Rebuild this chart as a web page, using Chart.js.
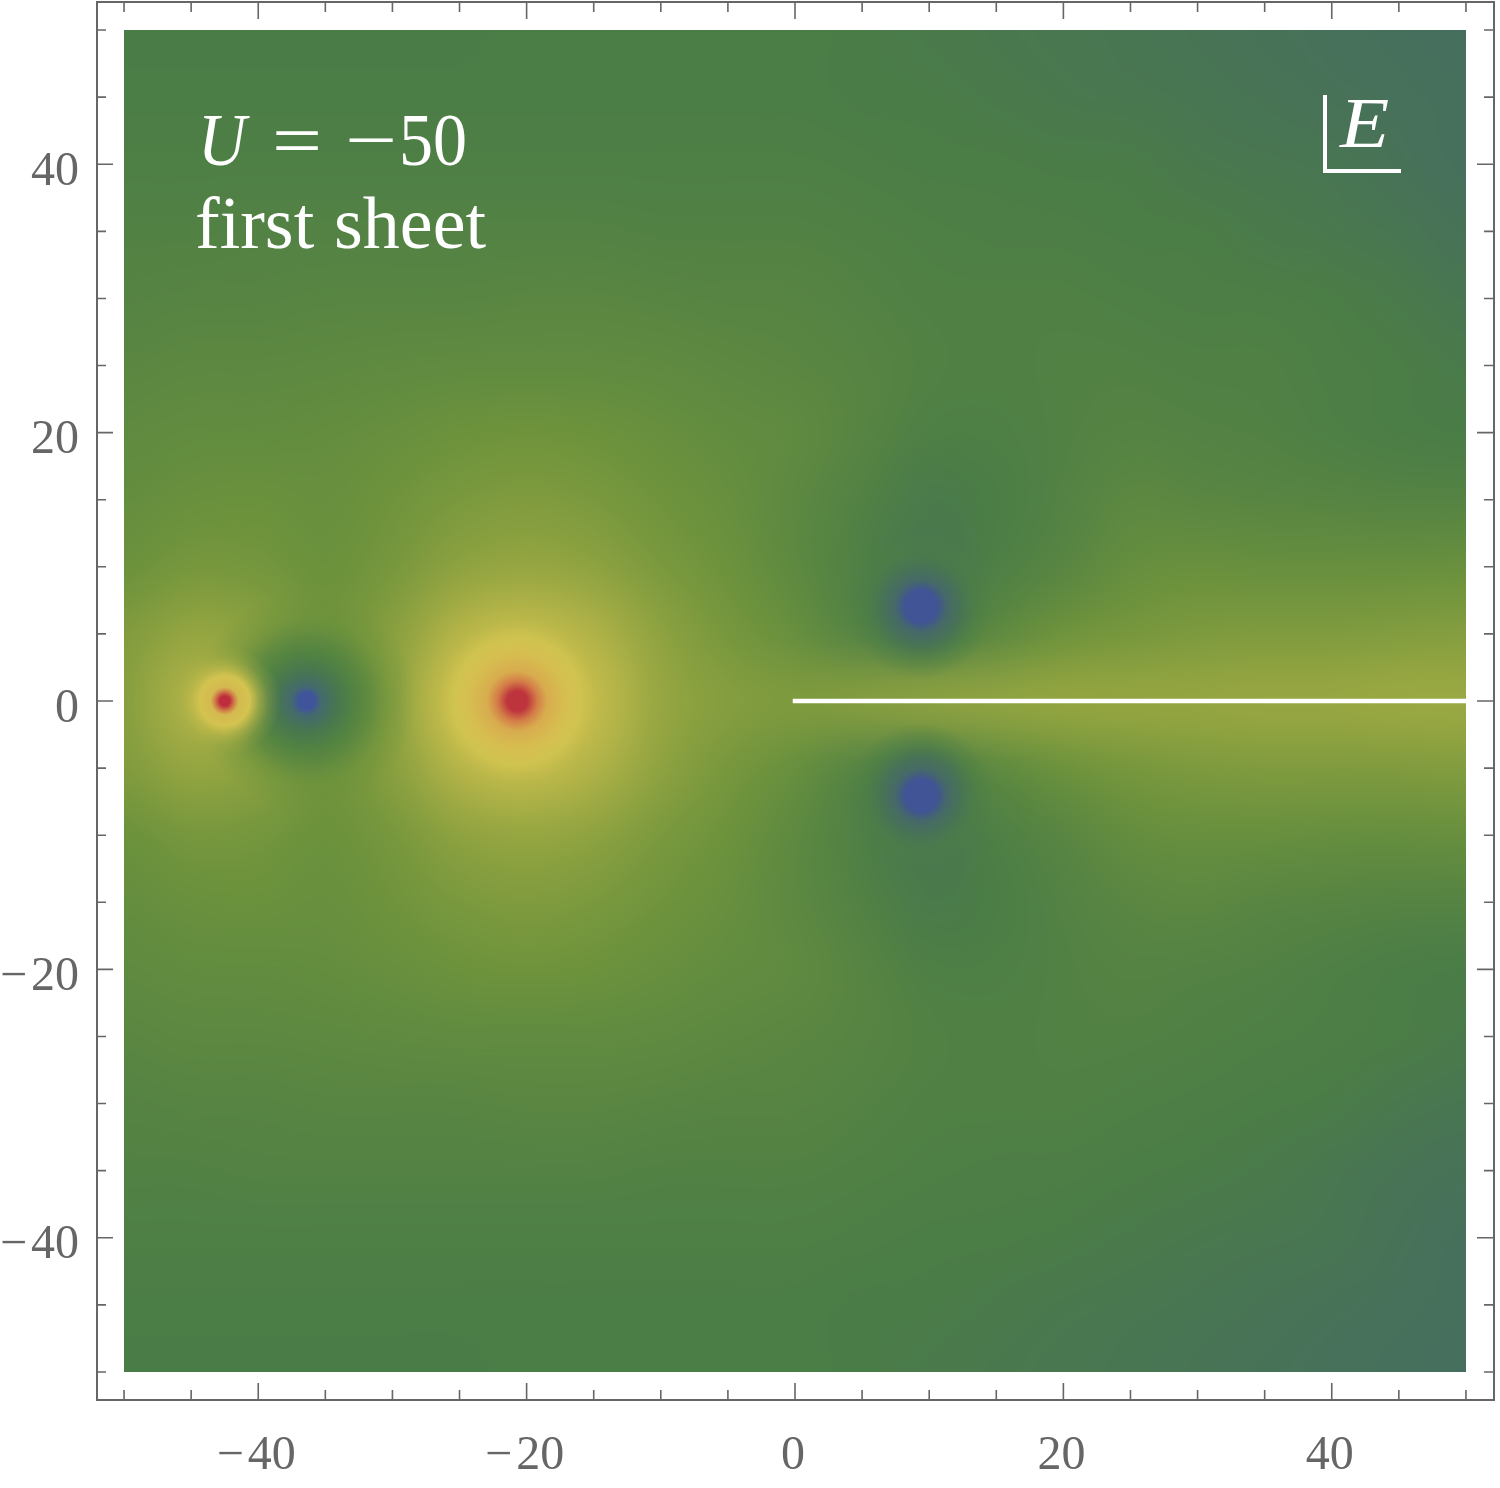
<!DOCTYPE html>
<html>
<head>
    <meta charset="UTF-8">
    <title>U = -50, first sheet</title>
    <script src="https://cdn.jsdelivr.net/npm/chart.js"></script>
    <style>
        html, body { margin: 0; padding: 0; background: #fff; }
        canvas { display: block; }
    </style>
</head>
<body>
<canvas id="sheet" width="1500" height="1488"></canvas>
<script>
// Axis ticks
const tickValues = [-50, -45, -40, -35, -30, -25, -20, -15, -10, -5, 0, 5, 10, 15, 20, 25, 30, 35, 40, 45, 50];
const labelledTicks = [-40, -20, 0, 20, 40];

// Field samples, 0 = blue, 25 = green, 80 = yellow, 100 = red
const fieldX = [-50, -45, -40, -35, -30, -25, -20, -15, -10, -5, 0, 5, 10, 15, 20, 25, 30, 35, 40, 45, 50];
const fieldY = [50, 45, 40, 35, 30, 25, 20, 15, 10, 5, 0, -5, -10, -15, -20, -25, -30, -35, -40, -45, -50];
const fieldValues = [
    [24, 24, 24, 24, 24, 24, 25, 25, 25, 25, 25, 24, 23, 22, 21, 20, 19, 18, 17, 16, 15],
    [25, 25, 25, 25, 25, 25, 25, 25, 25, 25, 25, 24, 24, 23, 22, 21, 20, 19, 18, 17, 16],
    [27, 27, 27, 27, 27, 27, 27, 27, 27, 27, 27, 26, 25, 25, 24, 24, 22, 21, 20, 18, 16],
    [29, 29, 30, 30, 30, 30, 30, 30, 29, 29, 29, 28, 27, 26, 26, 25, 25, 23, 22, 20, 18],
    [31, 32, 32, 33, 33, 33, 34, 34, 33, 32, 32, 30, 28, 28, 28, 27, 26, 26, 25, 23, 20],
    [34, 35, 35, 36, 37, 38, 38, 38, 37, 35, 34, 32, 29, 28, 29, 29, 28, 28, 26, 25, 23],
    [37, 39, 39, 40, 42, 45, 46, 45, 42, 39, 37, 32, 27, 27, 29, 31, 30, 29, 27, 25, 24],
    [40, 43, 44, 42, 46, 50, 52, 50, 46, 42, 35, 29, 23, 25, 30, 35, 34, 33, 32, 31, 31],
    [44, 49, 48, 44, 49, 57, 60, 57, 50, 45, 36, 27, 21, 27, 33, 41, 43, 42, 42, 42, 43],
    [52, 60, 56, 46, 55, 70, 74, 69, 57, 49, 42, 30, 26, 36, 46, 49, 51, 52, 52, 53, 54],
    [54, 69, 58, 47, 56, 78, 84, 76, 60, 54, 52, 55, 58, 59, 60, 60, 60, 61, 61, 62, 62],
    [52, 60, 56, 46, 55, 70, 74, 69, 57, 49, 42, 30, 26, 36, 45, 49, 51, 52, 52, 52, 53],
    [44, 49, 48, 44, 49, 57, 60, 57, 50, 45, 36, 27, 21, 27, 33, 40, 42, 42, 41, 41, 42],
    [40, 43, 44, 42, 46, 50, 52, 50, 46, 42, 35, 29, 23, 25, 30, 34, 35, 33, 32, 31, 31],
    [37, 39, 39, 40, 42, 45, 46, 45, 42, 39, 37, 32, 27, 27, 29, 31, 30, 29, 27, 25, 24],
    [34, 35, 35, 36, 37, 38, 38, 38, 37, 35, 34, 32, 29, 28, 29, 29, 28, 27, 26, 25, 23],
    [31, 32, 32, 33, 33, 33, 34, 34, 33, 32, 32, 30, 28, 28, 28, 27, 26, 25, 24, 22, 20],
    [29, 29, 30, 30, 30, 30, 30, 30, 29, 29, 29, 28, 27, 26, 26, 25, 24, 23, 21, 19, 18],
    [27, 27, 27, 27, 27, 27, 27, 27, 27, 27, 27, 26, 25, 25, 24, 23, 22, 21, 20, 18, 16],
    [25, 25, 25, 25, 25, 25, 25, 25, 25, 25, 25, 24, 24, 23, 22, 21, 20, 19, 18, 17, 16],
    [24, 24, 24, 24, 24, 24, 25, 25, 25, 25, 25, 24, 23, 22, 21, 20, 19, 18, 17, 16, 15]
];

// Poles and zeros
const smallPoleX = [-42.5];
const smallPoleY = [0];
const bigPoleX = [-20.7];
const bigPoleY = [0];
const smallZeroX = [-36.4];
const smallZeroY = [0];
const bigZeroX = [9.4, 9.4];
const bigZeroY = [7.05, -7.05];

// Branch cut
const cutX = [0, 50];
const cutY = [0, 0];

// value -> colour
const colourStops = [
    [0, 64, 82, 155],
    [15, 70, 110, 95],
    [25, 75, 125, 70],
    [45, 108, 146, 60],
    [60, 150, 166, 65],
    [80, 211, 195, 80],
    [88, 215, 172, 78],
    [100, 190, 50, 60]
];

function colourFor(v) {
    for (let i = 1; i < colourStops.length; i++) {
        const a = colourStops[i - 1], b = colourStops[i];
        if (v <= b[0]) {
            const t = (v - a[0]) / (b[0] - a[0]);
            return [1, 2, 3].map(k => a[k] + (b[k] - a[k]) * t);
        }
    }
    return colourStops[colourStops.length - 1].slice(1);
}

function zip(xs, ys) {
    return xs.map((x, i) => ({x: x, y: ys[i]}));
}

// radial fill centred on the point, stops are [radius px, r, g, b, alpha]
function spotFill(radius, stops) {
    return function (c) {
        if (!c.raw) return 'rgba(0,0,0,0)';
        const px = c.chart.scales.x.getPixelForValue(c.raw.x);
        const py = c.chart.scales.y.getPixelForValue(c.raw.y);
        // options also get resolved once before the scales have a size
        if (!Number.isFinite(px) || !Number.isFinite(py)) return 'rgba(0,0,0,0)';
        const g = c.chart.ctx.createRadialGradient(px, py, 0, px, py, radius);
        stops.forEach(s => g.addColorStop(s[0] / radius, `rgba(${s[1]},${s[2]},${s[3]},${s[4]})`));
        return g;
    };
}

const smallPoleFill = spotFill(56, [
    [0, 190, 45, 60, 1], [5, 190, 45, 60, 1], [10, 208, 130, 72, 1], [14, 212, 185, 80, 1],
    [25, 211, 195, 80, 1], [34, 198, 188, 75, 0.6], [44, 180, 180, 70, 0.25], [56, 165, 172, 66, 0]
]);
const bigPoleFill = spotFill(120, [
    [0, 190, 52, 60, 1], [10, 190, 52, 60, 1], [20, 212, 125, 72, 1], [30, 216, 172, 78, 1],
    [48, 214, 190, 80, 1], [64, 209, 196, 80, 0.9], [80, 192, 186, 74, 0.55], [100, 178, 178, 70, 0.2], [120, 170, 175, 68, 0]
]);
const smallZeroFill = spotFill(110, [
    [0, 64, 84, 155, 1], [8, 64, 84, 155, 1], [15, 68, 106, 110, 1], [30, 72, 118, 80, 1],
    [48, 80, 130, 66, 0.95], [62, 88, 134, 64, 0.8], [85, 105, 145, 60, 0.4], [110, 108, 146, 60, 0]
]);
const bigZeroFill = spotFill(72, [
    [0, 64, 84, 150, 1], [16, 64, 84, 150, 1], [20, 66, 92, 130, 1], [26, 70, 105, 105, 1],
    [40, 72, 115, 85, 0.92], [56, 75, 125, 72, 0.45], [72, 75, 125, 70, 0]
]);

function spotDataset(xs, ys, radius, fill, order) {
    return {
        type: 'scatter',
        data: zip(xs, ys),
        order: order,
        pointRadius: radius,
        pointHoverRadius: radius,
        pointBorderWidth: 0,
        pointBackgroundColor: fill
    };
}

// the sampled field, smoothed by the canvas when it is stretched to the scales
const fieldPlugin = {
    id: 'field',
    beforeDatasetsDraw(chart) {
        const {ctx, scales: {x, y}} = chart;
        const off = document.createElement('canvas');
        off.width = fieldX.length;
        off.height = fieldY.length;
        const offCtx = off.getContext('2d');
        const img = offCtx.createImageData(off.width, off.height);
        fieldValues.forEach((row, j) => row.forEach((v, i) => {
            const c = colourFor(v), k = (j * off.width + i) * 4;
            img.data[k] = c[0];
            img.data[k + 1] = c[1];
            img.data[k + 2] = c[2];
            img.data[k + 3] = 255;
        }));
        offCtx.putImageData(img, 0, 0);

        const dx = (fieldX[1] - fieldX[0]) / 2;
        const dy = (fieldY[0] - fieldY[1]) / 2;
        const left = x.getPixelForValue(fieldX[0] - dx);
        const right = x.getPixelForValue(fieldX[fieldX.length - 1] + dx);
        const top = y.getPixelForValue(fieldY[0] + dy);
        const bottom = y.getPixelForValue(fieldY[fieldY.length - 1] - dy);

        ctx.save();
        ctx.beginPath();
        ctx.rect(x.getPixelForValue(-50), y.getPixelForValue(50),
            x.getPixelForValue(50) - x.getPixelForValue(-50), y.getPixelForValue(-50) - y.getPixelForValue(50));
        ctx.clip();
        ctx.imageSmoothingEnabled = true;
        ctx.imageSmoothingQuality = 'high';
        ctx.drawImage(off, left, top, right - left, bottom - top);
        ctx.restore();
    }
};

// Liberation glyphs are narrower than the original's, so stretch them a little
function stretchedText(ctx, text, px, py, sx) {
    ctx.save();
    ctx.translate(px, py);
    ctx.scale(sx, 1);
    ctx.fillText(text, 0, 0);
    ctx.restore();
}

// frame, inward ticks on all four sides, and the text inside the plot
const framePlugin = {
    id: 'frame',
    afterDraw(chart) {
        const {ctx, chartArea: a, scales: {x, y}} = chart;
        ctx.save();
        ctx.strokeStyle = '#666';
        ctx.lineWidth = 1.6;
        tickValues.forEach(v => {
            const len = labelledTicks.includes(v) ? 17 : 10;
            const px = x.getPixelForValue(v), py = y.getPixelForValue(v);
            ctx.beginPath();
            ctx.moveTo(px, a.bottom); ctx.lineTo(px, a.bottom - len);
            ctx.moveTo(px, a.top); ctx.lineTo(px, a.top + len);
            ctx.moveTo(a.left, py); ctx.lineTo(a.left + len, py);
            ctx.moveTo(a.right, py); ctx.lineTo(a.right - len, py);
            ctx.stroke();
        });
        ctx.lineWidth = 2;
        ctx.strokeRect(a.left + 1, a.top, a.right - a.left - 1, a.bottom - a.top);

        ctx.fillStyle = '#fff';
        ctx.textBaseline = 'alphabetic';
        ctx.textAlign = 'left';
        ctx.font = 'italic 74px "Liberation Serif"';
        stretchedText(ctx, 'U', 198, 165, 0.9);
        ctx.font = '74px "Liberation Serif"';
        stretchedText(ctx, '=', 272, 165, 1.2);
        stretchedText(ctx, '−', 345, 165, 1.25);
        stretchedText(ctx, '50', 399, 165, 0.92);
        ctx.fillText('first', 195, 248);
        ctx.fillText('sheet', 334, 248);
        ctx.font = 'italic 72px "Liberation Serif"';
        stretchedText(ctx, 'E', 1340, 147, 1.12);

        ctx.strokeStyle = '#fff';
        ctx.lineWidth = 4;
        ctx.beginPath();
        ctx.moveTo(1325, 95);
        ctx.lineTo(1325, 171);
        ctx.lineTo(1401, 171);
        ctx.stroke();
        ctx.restore();
    }
};

function axisOptions(padding, labelOffset, fit) {
    return {
        type: 'linear',
        min: -52.09,
        max: 52.09,
        afterBuildTicks: scale => {
            scale.ticks = tickValues.map(v => ({value: v}));
        },
        afterFit: fit,
        border: {display: false},
        grid: {display: false, drawTicks: false},
        ticks: {
            autoSkip: false,
            maxRotation: 0,
            padding: padding,
            labelOffset: labelOffset,
            color: '#666',
            font: {family: '"Liberation Serif"', size: 48},
            callback: v => labelledTicks.includes(v) ? (v < 0 ? '−\u200a' + Math.abs(v) : String(v)) : ''
        }
    };
}

new Chart(document.getElementById('sheet').getContext('2d'), {
    data: {
        datasets: [
            {
                type: 'scatter',
                data: zip(cutX, cutY),
                order: 0,
                showLine: true,
                borderColor: '#fff',
                borderWidth: 4.5,
                borderCapStyle: 'square',
                pointRadius: 0,
                pointHoverRadius: 0
            },
            spotDataset(smallPoleX, smallPoleY, 56, smallPoleFill, 1),
            spotDataset(bigPoleX, bigPoleY, 120, bigPoleFill, 2),
            spotDataset(bigZeroX, bigZeroY, 72, bigZeroFill, 3),
            spotDataset(smallZeroX, smallZeroY, 110, smallZeroFill, 4)
        ]
    },
    options: {
        responsive: false,
        animation: false,
        events: [],
        layout: {autoPadding: false, padding: {top: 2, right: 6, left: 0, bottom: 0}},
        plugins: {legend: {display: false}, tooltip: {enabled: false}, title: {display: false}},
        scales: {
            x: axisOptions(28, -2, s => { s.height = 88; s.paddingLeft = 0; s.paddingRight = 0; }),
            y: axisOptions(17, 8, s => { s.width = 96; s.paddingTop = 0; s.paddingBottom = 0; })
        }
    },
    plugins: [fieldPlugin, framePlugin]
});
</script>
</body>
</html>
